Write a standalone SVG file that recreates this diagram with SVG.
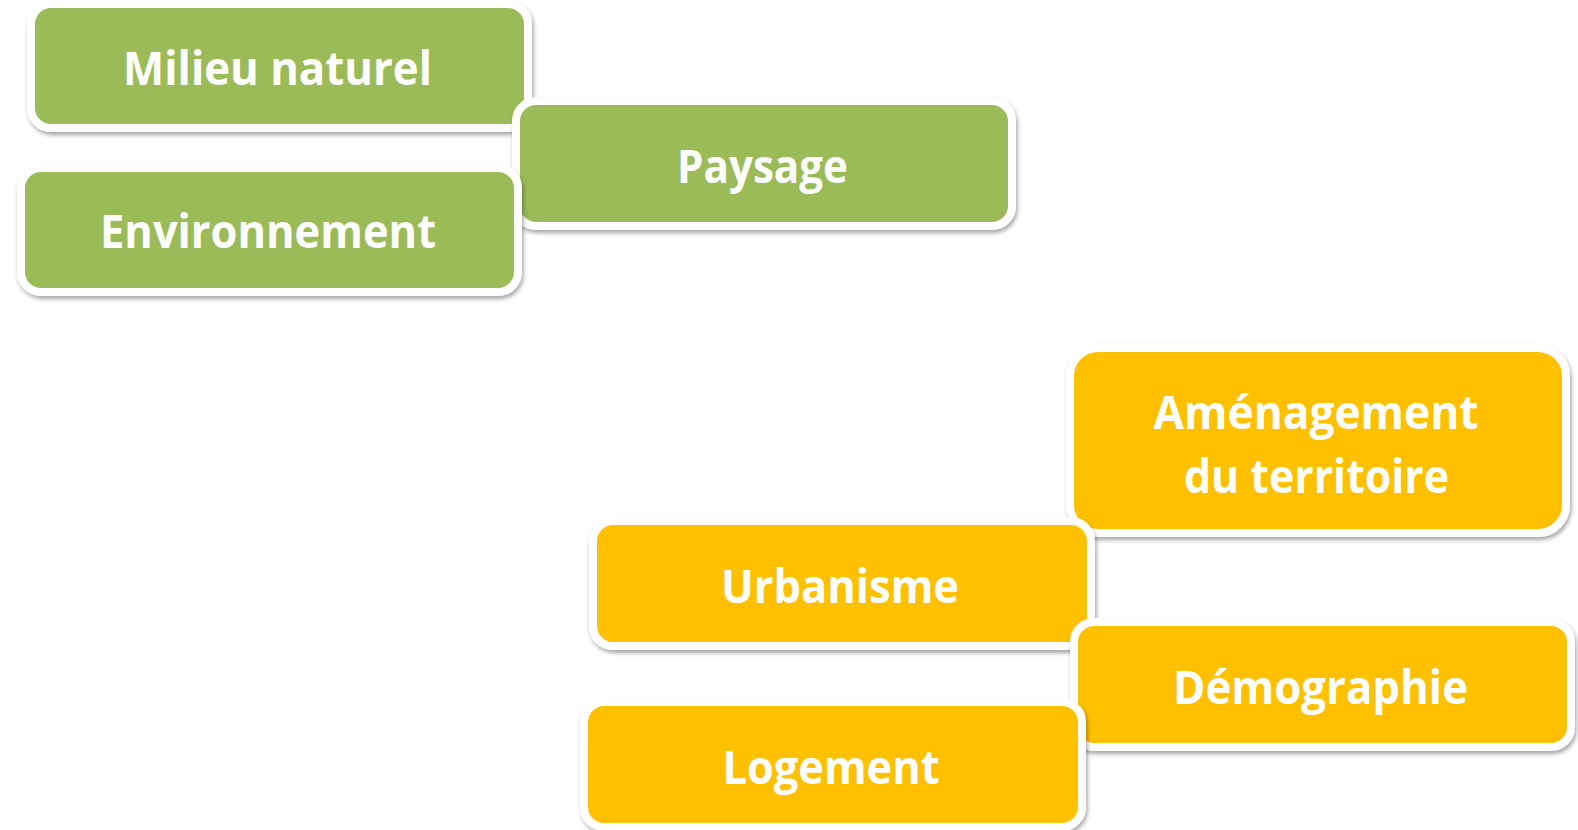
<svg xmlns="http://www.w3.org/2000/svg" width="1578" height="830" viewBox="0 0 1578 830">
<defs>
<filter id="sh" x="-5%" y="-10%" width="112%" height="125%">
<feDropShadow dx="1.5" dy="3" stdDeviation="2" flood-color="#000" flood-opacity="0.35"/>
</filter>
<style>
.box{stroke:#fff;stroke-width:8;filter:url(#sh)}
.g{fill:#9BBB59}
.y{fill:#FFC000}
.t{font-family:"Open Sans","Liberation Sans",sans-serif;font-weight:bold;font-size:47px;fill:#fff;text-anchor:middle}
</style>
</defs>
<rect width="1578" height="830" fill="#fff"/>
<g id="connectors"/>
<g id="milieu">
<rect class="box g" x="31" y="4" width="497" height="124" rx="20"/>
<text class="t" x="277.5" y="85" textLength="309" lengthAdjust="spacingAndGlyphs">Milieu naturel</text>
</g>
<g id="paysage">
<rect class="box g" x="516" y="101" width="496" height="125" rx="20"/>
<text class="t" x="762.5" y="183" textLength="171" lengthAdjust="spacingAndGlyphs">Paysage</text>
</g>
<g id="environnement">
<rect class="box g" x="21" y="168" width="497" height="124" rx="20"/>
<text class="t" x="268" y="248" textLength="336" lengthAdjust="spacingAndGlyphs">Environnement</text>
</g>
<g id="amenagement">
<rect class="box y" x="1070" y="348" width="496" height="185" rx="28"/>
<text class="t" x="1316" y="429" textLength="325" lengthAdjust="spacingAndGlyphs">Aménagement</text>
<text class="t" x="1316.5" y="493" textLength="265" lengthAdjust="spacingAndGlyphs">du territoire</text>
</g>
<g id="urbanisme">
<rect class="box y" x="593" y="521" width="498" height="125" rx="20"/>
<text class="t" x="840" y="603" textLength="238" lengthAdjust="spacingAndGlyphs">Urbanisme</text>
</g>
<g id="demographie">
<rect class="box y" x="1074" y="622" width="497" height="125" rx="20"/>
<text class="t" x="1320.5" y="704" textLength="295" lengthAdjust="spacingAndGlyphs">Démographie</text>
</g>
<g id="logement">
<rect class="box y" x="584" y="702" width="498" height="125" rx="20"/>
<text class="t" x="831" y="784" textLength="217" lengthAdjust="spacingAndGlyphs">Logement</text>
</g>
</svg>
